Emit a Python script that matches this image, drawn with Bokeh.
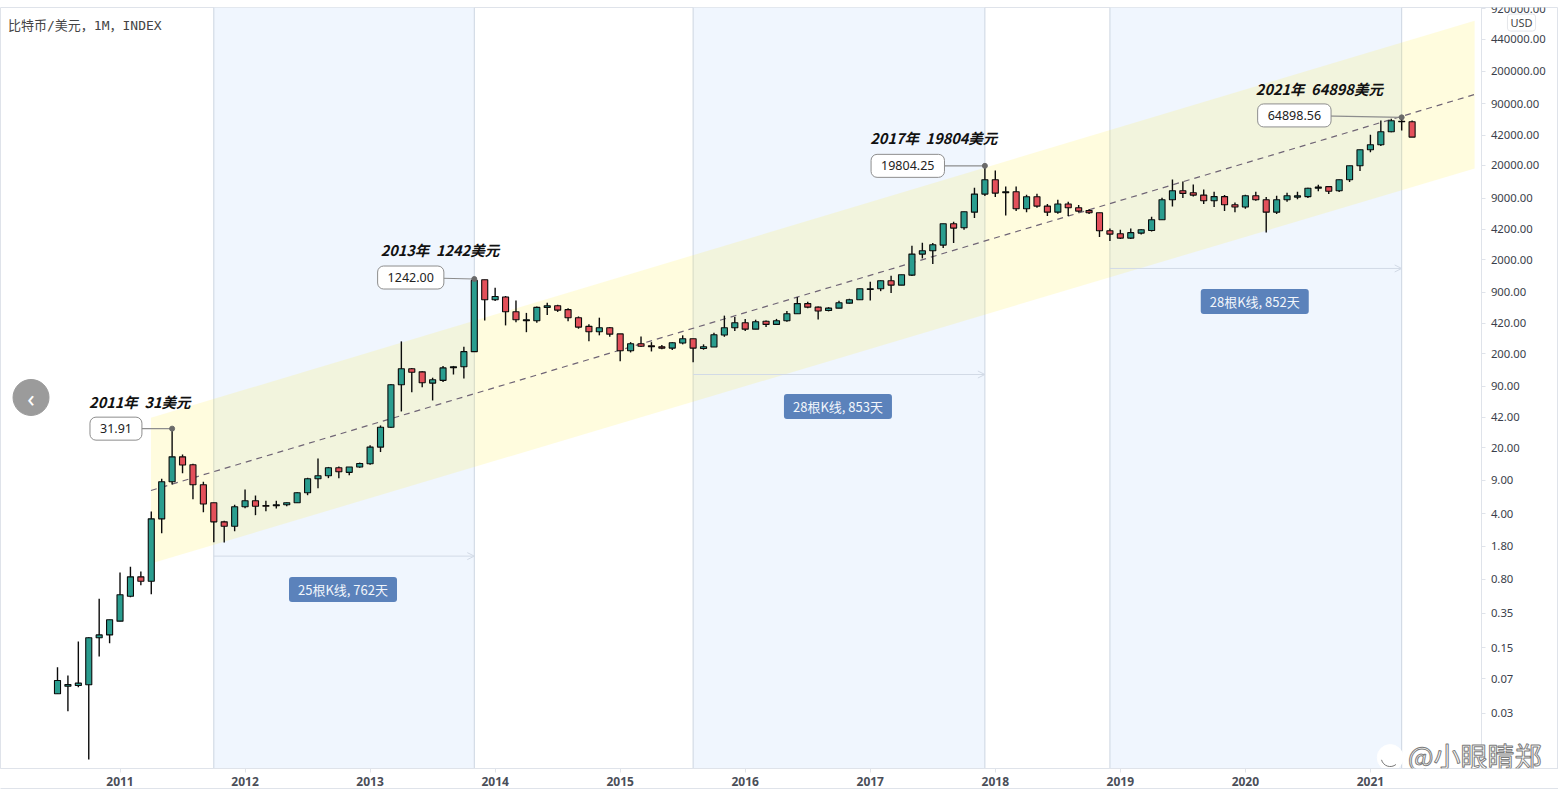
from bokeh.plotting import figure
from bokeh.models import (ColumnDataSource, Range1d, FixedTicker, PrintfTickFormatter, Label,
                          BoxAnnotation, Span, Arrow, OpenHead, LogAxis, LinearAxis)
from bokeh.embed import file_html
from bokeh.resources import INLINE

# Monthly BTC/USD candles, July 2010 onward (bar index 0 = 2010-07)
opens = [.0486,.0585,.0595,.0606,.191,.205,.287,.529,.849,.763,3.51,8.69,16.0,13.2,8.07,5.2,3.26,2.93,4.71,5.46,4.86,4.84,4.95,5.2,6.64,9.36,10.07,12.25,
         10.95,12.5,13.5,20.3,33,93.4,138,128,97.2,104,142,145,210,1221,748,800,557,447,447,620,646,587,482,390,342,377,324,215,255,243,237,229,
         259,288,227,235,315,377,426,364,441,409,447,530,680,624,575,609,688,748,963,980,1190,1070,1367,2284,2481,2848,4805,4358,6380,9920,14110,10260,10510,6937,9304,7395,6380,7790,7110,6620,
         6290,4048,3760,3380,3820,4070,5300,8650,10770,10260,9683,8435,9330,7650,7230,9530,8650,6380,8650,9217,9330,11430,11900,10770,14110,19860,29400,33215,45650,59000,58300]
highs = [.0931,.076,.174,.194,.496,.297,.944,1.09,.967,4.2,9.36,31.91,16.9,13.5,8.69,5.2,3.34,4.95,7.2,6.21,5.46,5.46,5.24,6.74,9.59,15.4,12.5,12.6,
         12.5,13.9,21.2,34.5,95,270,141,130,111,148,148,237,1242,1221,1004,820,735,542,635,695,661,609,497,410,482,383,324,265,305,265,247,265,
         313,288,251,334,507,489,468,459,451,468,568,797,714,635,624,729,766,980,1162,1200,1346,1379,2804,3020,2990,4805,5044,6443,11600,19804,17710,11975,11975,9770,10000,7790,8650,8230,7590,6830,
         6290,4270,4150,4270,4200,5703,9080,14210,13530,12570,11130,10510,9683,8100,9770,10510,9217,9530,10260,10510,11560,12450,12100,14210,19860,29400,42430,60200,62780,64898,60200]
lows = [.0486,.0317,.057,.00973,.121,.167,.287,.516,.693,.555,2.47,8.14,10.7,5.68,4.13,1.98,1.97,2.59,4.55,3.84,4.23,4.52,4.78,5.17,6.26,7.44,9.5,9.5,
        10.2,12.25,13.2,18,32.4,48.6,77.9,88.1,63.6,99.7,120,109,210,451,723,399,432,338,425,514,555,443,368,270,313,302,166,206,235,211,223,218,
        251,162,220,235,302,347,347,364,383,409,437,530,609,462,562,609,680,748,735,923,880,1070,1334,2055,1789,2646,2990,4150,5514,9446,9217,5890,6540,6380,7110,5790,6130,5790,6340,6090,
        3462,3140,3296,3296,3700,3960,5300,7340,9000,9330,7765,7230,6540,6380,6937,8435,3885,6090,8230,8720,9000,10640,9920,10420,13300,17410,27700,32100,45000,47100,40020]
closes = [.0672,.061,.063,.191,.205,.297,.547,.849,.763,3.51,8.69,16.0,13.1,8.07,5.05,3.26,2.93,4.71,5.46,4.78,4.78,4.95,5.2,6.64,9.36,10.07,12.25,11.1,
          12.5,13.6,20.3,33,93.4,138,127,98.2,105.6,141,145,210,1200,748,811,557,459,459,620,646,580,482,383,342,377,322,215,255,240,237,229,261,
          288,229,237,318,377,426,364,437,409,447,530,680,624,568,609,695,748,980,980,1190,1070,1379,2284,2481,2873,4805,4317,6443,9920,14110,10170,10510,6937,9304,7395,6380,7790,7110,6540,6290,
          4048,3725,3380,3860,4150,5300,8650,10770,10088,9683,8435,9330,7650,7230,9530,8650,6380,8650,9530,9530,11430,11770,10640,14110,19860,29400,33215,45650,59700,58300,40020]

year_ticks = [6, 18, 30, 42, 54, 66, 78, 90, 102, 114, 126]
year_labels = ["2011", "2012", "2013", "2014", "2015", "2016", "2017", "2018", "2019", "2020", "2021"]
price_ticks = [0.03, 0.07, 0.15, 0.35, 0.8, 1.8, 4, 9, 20, 42, 90, 200, 420, 900, 2000, 4200, 9000,
               20000, 42000, 90000, 200000, 440000, 920000]

cycles = [(15, 40), (61, 89), (101, 129)]
cycle_labels = ["25根K线, 762天", "28根K线, 853天", "28根K线, 852天"]
cycle_label_x = [27.4, 74.9, 114.9]
cycle_label_y = [0.624, 54.9, 717]
cycle_arrow_y = [1.41, 120, 1608]

peak_x = [11, 40, 89, 129]
peak_y = [31.91, 1242.0, 19804.25, 64898.56]
peak_text = ["31.91", "1242.00", "19804.25", "64898.56"]
peak_titles = ["2011年\u00a0\u00a031美元", "2013年\u00a0\u00a01242美元", "2017年\u00a0\u00a019804美元", "2021年\u00a0\u00a064898美元"]
peak_box_x = [5.61, 33.9, 81.6, 118.7]
peak_box_y = [31.9, 1288, 19804, 68000]
peak_title_x = [7.9, 36.7, 84.1, 121.1]
peak_title_y = [62.1, 2560, 39500, 133000]

channel_x = [8.97, 136.0]
channel_top = [41.6, 690000]
channel_mid = [7.03, 113500]
channel_low = [1.177, 18580]

GREEN, RED = "#2a9d8f", "#e3505a"
AXIS = "#dfe3ea"
idx = list(range(len(opens)))

p = figure(frame_width=1558, frame_height=761, output_backend="svg", toolbar_location=None,
           y_axis_type="log", y_axis_location=None,
           x_range=Range1d(-5.47, 144.05), y_range=Range1d(0.0078, 954000),
           min_border_left=0, min_border_top=7, min_border_right=0, min_border_bottom=28,
           background_fill_color="white", border_fill_color="white")
p.grid.visible = False
p.outline_line_color = AXIS

yax = LogAxis(ticker=FixedTicker(ticks=price_ticks), formatter=PrintfTickFormatter(format="%.2f"),
              fixed_location=136.7)
p.add_layout(yax, "right")
xax = p.xaxis[0]
for ax in (xax, yax):
    ax.axis_line_color = AXIS
    ax.major_tick_line_color = AXIS
    ax.minor_tick_line_color = None
    ax.major_tick_in = 0
    ax.major_tick_out = 4
    ax.major_label_text_font = "Noto Sans"
yax.major_label_text_font_size = "11.3px"
yax.major_label_text_color = "#3a3e4a"
yax.major_label_standoff = 5
xax.ticker = FixedTicker(ticks=year_ticks)
xax.major_label_overrides = dict(zip(year_ticks, year_labels))
xax.major_label_text_font_size = "12px"
xax.major_label_text_font_style = "bold"
xax.major_label_text_color = "#4a4e58"
xax.major_label_standoff = 4
# bottom rule of the chart box
p.add_layout(LinearAxis(ticker=FixedTicker(ticks=[]), axis_line_color=AXIS, major_tick_line_color=None,
                        minor_tick_line_color=None, major_label_text_color=None), "below")
# dividers of the time-axis strip: price-scale edge and chart edge
p.add_layout(LinearAxis(ticker=FixedTicker(ticks=[136.7, 143.98]), fixed_location=0.0078, axis_line_color=None,
                        major_tick_line_color=AXIS, major_tick_in=0, major_tick_out=27,
                        minor_tick_line_color=None, major_label_text_color=None,
                        major_label_overrides={136.7: "", 143.98: ""}), "below")

# cycle bands
for a, b in cycles:
    p.add_layout(BoxAnnotation(left=a, right=b, fill_color="#f0f6fe", fill_alpha=1, line_alpha=0, level="underlay"))
    for v in (a, b):
        p.add_layout(Span(location=v, dimension="height", line_color="#ccd5e1", line_width=1, level="underlay"))

# channel
p.patch(channel_x + channel_x[::-1], channel_top + channel_low[::-1], fill_color="#ffeb3b", fill_alpha=0.17, line_alpha=0)
p.line(channel_x, channel_mid, line_color="#6f6475", line_width=1.2, line_dash="6 5")

# arrows
for (a, b), yv in zip(cycles, cycle_arrow_y):
    p.add_layout(Arrow(end=OpenHead(size=7, line_color="#d2dae6", line_width=1), x_start=a, y_start=yv, x_end=b, y_end=yv,
                       line_color="#d2dae6", line_width=1))

# candles
src = ColumnDataSource(dict(
    x=idx, high=highs, low=lows,
    top=[max(o, c) for o, c in zip(opens, closes)],
    bottom=[min(o, c) for o, c in zip(opens, closes)],
    color=[GREEN if c >= o else RED for o, c in zip(opens, closes)],
))
p.segment("x", "high", "x", "low", source=src, line_color="#0b0b0b", line_width=1.4)
p.vbar(x="x", width=0.58, top="top", bottom="bottom", source=src, fill_color="color", line_color="#0b0b0b", line_width=1.1)

# peak callouts
for i in range(4):
    p.segment([peak_box_x[i]], [peak_box_y[i]], [peak_x[i]], [peak_y[i]], line_color="#8d8d8d", line_width=1.2)
    p.scatter([peak_x[i]], [peak_y[i]], size=5, color="#6a6a6a")
    p.add_layout(Label(x=peak_box_x[i], y=peak_box_y[i], text=peak_text[i], text_align="center", text_baseline="middle",
                       text_font="Noto Sans", text_font_size="12.5px", text_color="#222222",
                       background_fill_color="white", border_line_color="#8d8d8d", border_line_width=1,
                       border_radius=6, padding=(10, 7)))
    p.add_layout(Label(x=peak_title_x[i], y=peak_title_y[i], text=peak_titles[i], text_align="center", text_baseline="middle",
                       text_font="Noto Sans CJK SC", text_font_style="bold italic", text_font_size="14.5px",
                       text_color="#111111"))

# cycle duration badges
for x, y, t in zip(cycle_label_x, cycle_label_y, cycle_labels):
    p.add_layout(Label(x=x, y=y, text=t, text_align="center", text_baseline="middle",
                       text_font="Noto Sans CJK SC", text_font_size="13px", text_color="#f2f6fb",
                       background_fill_color="#5b82bb", border_radius=3, padding=(9, 3)))

# header, currency, nav button, watermark
p.add_layout(Label(x=-4.75, y=615000, text="比特币/美元，1M，INDEX", text_align="left", text_baseline="middle",
                   text_font="'DejaVu Sans Mono', 'Noto Sans CJK SC'", text_font_size="13px", text_color="#444444"))
p.add_layout(Label(x=140.5, y=660000, text="USD", text_align="center", text_baseline="middle",
                   text_font="Noto Sans", text_font_size="11px", text_color="#444444",
                   background_fill_color="white", border_line_color="#e4e6ea", border_radius=3, padding=(3, 1)))
p.scatter([-2.54], [68.4], size=36, color="#9b9b9b")
p.add_layout(Label(x=-2.54, y=68.4, text="‹", text_align="center", text_baseline="middle",
                   text_font="Noto Sans", text_font_size="24px", text_color="white"))
p.scatter([127.9], [0.0102], size=26, color="white")
p.arc([127.9], [0.0102], radius=9, radius_units="screen", start_angle=3.4, end_angle=5.4, line_color="#777777", line_width=1)
p.add_layout(Label(x=129.6, y=0.01074, text="@小眼睛郑", text_align="left", text_baseline="middle",
                   text_font="Noto Sans CJK SC", text_font_size="27px",
                   text_color="white", text_outline_color="#7d7d7d"))

open("out.html", "w").write(file_html(p, INLINE))
